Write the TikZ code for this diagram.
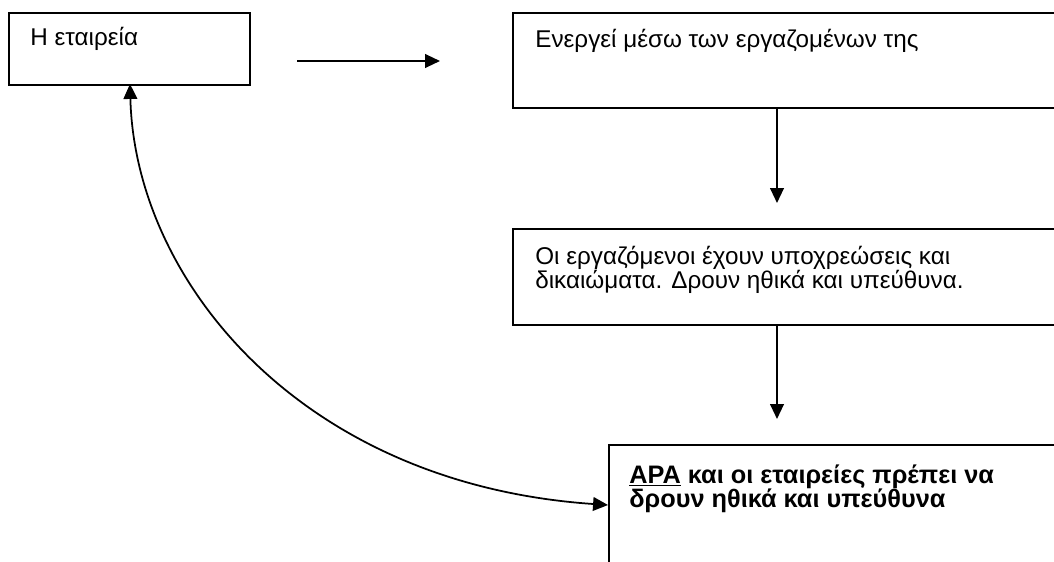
\documentclass[tikz,border=0pt]{standalone}
\usepackage{fontspec}
\setmainfont{Liberation Sans}
\usetikzlibrary{arrows.meta}
\tikzset{
  box/.style={draw, line width=1.1pt, rectangle, anchor=north west, inner sep=0pt},
  txt/.style={anchor=base west, inner sep=0pt, font=\fontsize{13.8}{14.2}\selectfont},
  btxt/.style={anchor=base west, inner sep=0pt, font=\fontsize{14.4}{13.8}\selectfont\bfseries},
  arr/.style={line width=1pt, -{Triangle[length=8.5pt,width=7.8pt]}},
  darr/.style={line width=1pt, {Triangle[length=8.5pt,width=7.8pt]}-{Triangle[length=8.5pt,width=7.8pt]}}
}
\begin{document}
\begin{tikzpicture}[x=0.02cm,y=-0.02cm]
\useasboundingbox (0,0) rectangle (1054,561);
\clip (0,0) rectangle (1054,561);
% boxes
\node[box, minimum width=4.82cm, minimum height=1.44cm] (b1) at (8,12) {};
\node[box, minimum width=11.5cm, minimum height=1.9cm] (b2) at (512,12) {};
\node[box, minimum width=11.5cm, minimum height=1.92cm] (b3) at (512,228) {};
\node[box, minimum width=9.6cm, minimum height=3.4cm] (b4) at (608,444) {};
% texts
\node[txt] (t1) at (30,45) {Η εταιρεία};
\node[txt] (t2) at (535,47) {Ενεργεί μέσω των εργαζομένων της};
\node[txt] (t3) at (535,264) {\parbox[t]{10cm}{\baselineskip=14.2pt Οι εργαζόμενοι έχουν υποχρεώσεις και\\δικαιώματα. Δρουν ηθικά και υπεύθυνα.}};
\node[btxt] (t4) at (629,483) {\parbox[t]{9cm}{\baselineskip=13.8pt \underline{ΑΡΑ} και οι εταιρείες πρέπει να\\δρουν ηθικά και υπεύθυνα}};
% connectors
\coordinate (h1) at (297,61);
\coordinate (h2) at (440,61);
\draw[arr] (h1) -- (h2);
\coordinate (a1) at (777,203);
\draw[arr] (b2.south -| a1) -- (a1);
\coordinate (a2) at (777,419);
\draw[arr] (b3.south -| a2) -- (a2);
\coordinate (c1) at (130,84);
\coordinate (c4) at (608,505);
\draw[darr] (c1) .. controls (135,280) and (300,484) .. (c4);
\end{tikzpicture}
\end{document}
